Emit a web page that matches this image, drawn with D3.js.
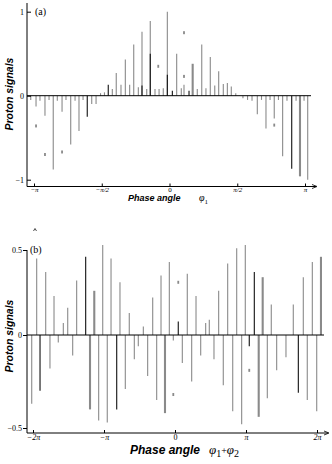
<!DOCTYPE html>
<html>
<head>
<meta charset="utf-8">
<script src="https://cdn.jsdelivr.net/npm/d3@7"></script>
<style>body{margin:0;background:#fff}</style>
</head>
<body>
<svg id="fig" width="332" height="464"></svg>
<script>
// phases are in units of pi, signals are normalised proton signal

// ---- panel (a), phase angle phi1
var aGreyPhase = [-1.024,-0.985,-0.956,-0.919,-0.889,-0.858,-0.828,-0.793,-0.764,-0.729,-0.697,-0.668,-0.638,-0.574,-0.542,
  -0.509,-0.480,-0.422,-0.393,-0.358,-0.326,-0.294,-0.264,-0.230,-0.203,-0.168,-0.142,-0.107,-0.077,-0.046,-0.016,
  0.053,0.087,0.107,0.205,0.238,0.269,0.301,0.334,0.363,0.397,0.427,0.456,0.489,
  0.542,0.576,0.609,0.648,0.679,0.712,0.742,0.773,0.804,0.835,0.867,0.934,0.993,1.020];
var aGreyValue = [-0.05,-0.13,-0.06,-0.24,-0.05,-0.88,-0.06,-0.19,-0.05,-0.58,-0.06,-0.42,-0.05,-0.10,-0.10,
  0.03,0.04,0.08,0.27,0.13,0.43,0.13,0.61,0.10,0.76,0.08,0.89,0.08,0.08,0.09,1.00,
  0.50,0.09,0.13,0.08,0.61,0.09,0.46,0.12,0.29,0.14,0.15,0.11,0.03,
  -0.03,-0.05,-0.06,-0.22,-0.05,-0.39,-0.05,-0.27,-0.05,-0.72,-0.06,-0.06,-0.06,-1.00];
var aThickPhase = [0.171,0.963];
var aThickValue = [0.38,-0.96];
var aDarkPhase = [-0.607,-0.452,-0.203,-0.142,-0.016,0.021,0.144,0.902];
var aDarkValue = [-0.25,0.13,0.12,0.50,0.25,0.06,0.06,-0.87];
var aDotPhase = [-0.985,-0.919,-0.793,-0.083,0.107,0.107,0.773];
var aDotValue = [-0.36,-0.70,-0.67,0.35,0.75,0.23,-0.35];
var aXTicks = [-1,-0.5,0,0.5,1];
var aXLabels = ['\u2212\u03c0','\u2212\u03c0/2','0','\u03c0/2','\u03c0'];
var aYTicks = [-1,0,1];
var aYLabels = ['\u22121','0','1'];

// ---- panel (b), phase angle phi1+phi2
var bGreyPhase = [-1.948,-1.821,-1.704,-1.573,-1.511,-1.385,-1.018,-0.901,-0.775,-0.644,-0.446,-0.314,-0.197,-0.080,
  0.173,0.296,0.432,0.483,0.615,0.742,0.869,0.990,1.356,1.666,1.807,1.934,
  -2.018,-1.761,-1.644,-1.441,-1.075,-0.954,-0.700,-0.573,-0.517,-0.385,-0.258,-0.024,
  0.103,0.235,0.362,0.549,0.680,0.813,0.939,1.300,1.432,1.563,1.863,1.996];
var bGreyValue = [0.45,0.37,0.23,0.07,0.16,0.32,0.53,0.45,0.31,0.13,0.05,0.22,0.35,0.43,
  0.36,0.23,0.07,0.09,0.26,0.42,0.51,0.53,0.18,0.18,0.34,0.43,
  -0.37,-0.18,-0.04,-0.11,-0.46,-0.47,-0.29,-0.13,-0.06,-0.22,-0.35,-0.03,
  -0.15,-0.25,-0.11,-0.13,-0.27,-0.41,-0.48,-0.34,-0.19,-0.12,-0.35,-0.41];
var bThickPhase = [-1.137,1.235,2.056,-1.197,1.179,-0.141];
var bThickValue = [0.26,0.34,0.46,-0.40,-0.44,-0.42];
var bDarkPhase = [-1.258,1.117,0.046,-1.901,-0.821,1.737,1.046];
var bDarkValue = [0.46,0.37,0.08,-0.30,-0.40,-0.31,-0.06];
var bDotPhase = [0.046,-0.024,1.046];
var bDotValue = [0.31,-0.32,-0.19];
var bXTicks = [-2,-1,0,1,2];
var bXLabels = ['\u22122\u03c0','\u2212\u03c0','0','\u03c0','2\u03c0'];
var bYTicks = [-0.5,0,0.5];
var bYLabels = ['\u22120.5','0','0.5'];

var grey = '#8a8a8a', dark = '#111';
var svg = d3.select('#fig');

function drawPanel(p){
    var g = svg.append('g');
    var x = d3.scaleLinear().domain(p.xDomain).range(p.xRange);
    var y = d3.scaleLinear().domain(p.yDomain).range(p.yRange);

    function sticks(ph, val, color, w){
        g.append('g').selectAll('line')
            .data(ph)
            .join('line')
            .attr('x1',function(d){return x(d)})
            .attr('x2',function(d){return x(d)})
            .attr('y1',y(0))
            .attr('y2',function(d,i){return y(val[i])})
            .attr('stroke',color)
            .attr('stroke-width',w);
    }
    sticks(p.greyP,p.greyV,grey,1.1);
    sticks(p.thickP,p.thickV,grey,2.1);
    sticks(p.darkP,p.darkV,dark,1.1);

    g.append('g').selectAll('rect')
        .data(p.dotP)
        .join('rect')
        .attr('x',function(d){return x(d)-0.9})
        .attr('y',function(d,i){return y(p.dotV[i])-1.5})
        .attr('width',1.8)
        .attr('height',3)
        .attr('fill',grey);

    // zero baseline
    g.append('line')
        .attr('x1',p.axisX).attr('x2',p.zeroEnd)
        .attr('y1',y(0)).attr('y2',y(0))
        .attr('stroke','#000').attr('stroke-width',1);

    // x axis
    var gx = g.append('g')
        .attr('transform','translate(0,'+p.axisY+')')
        .call(d3.axisBottom(x)
            .tickValues(p.xTicks)
            .tickFormat(function(d,i){return p.xLabels[i]})
            .tickSizeInner(-3)
            .tickSizeOuter(0)
            .tickPadding(p.xPad));
    gx.select('.domain').remove();
    gx.attr('font-family','"Liberation Serif", serif').attr('font-size',p.xTickFont).attr('font-style','italic');
    gx.selectAll('text').filter(function(d){return d===0}).attr('font-style','normal');
    g.append('line')
        .attr('x1',p.axisX).attr('x2',p.xEnd)
        .attr('y1',p.axisY).attr('y2',p.axisY)
        .attr('stroke','#000').attr('stroke-width',1);
    g.append('path')
        .attr('d','M'+(p.xEnd-4)+','+(p.axisY-2)+'L'+(p.xEnd+1)+','+p.axisY+'L'+(p.xEnd-4)+','+(p.axisY+2))
        .attr('fill','none').attr('stroke','#000').attr('stroke-width',0.8);

    // y axis
    var gy = g.append('g')
        .attr('transform','translate('+p.axisX+',0)')
        .call(d3.axisLeft(y)
            .tickValues(p.yTicks)
            .tickFormat(function(d,i){return p.yLabels[i]})
            .tickSizeInner(p.yTick)
            .tickSizeOuter(0)
            .tickPadding(p.yPad));
    gy.select('.domain').remove();
    gy.attr('font-family','"Liberation Serif", serif').attr('font-size',p.yTickFont);
    g.append('line')
        .attr('x1',p.axisX).attr('x2',p.axisX)
        .attr('y1',p.yTop).attr('y2',p.axisY)
        .attr('stroke','#000').attr('stroke-width',1);

    // panel tag
    g.append('text')
        .attr('x',p.tagX).attr('y',p.tagY)
        .attr('font-family','"Liberation Serif", serif')
        .attr('font-size',10)
        .text(p.tag);

    // axis titles
    g.append('text')
        .attr('transform','translate(13,'+p.yLabelMid+') rotate(-90)')
        .attr('text-anchor','middle')
        .attr('font-family','"Liberation Sans", Arial, sans-serif')
        .attr('font-weight','bold').attr('font-style','italic')
        .attr('font-size',10.5)
        .text('Proton signals');

    g.append('text')
        .attr('x',p.titleX).attr('y',p.titleY)
        .attr('font-family','"Liberation Sans", Arial, sans-serif')
        .attr('font-weight','bold').attr('font-style','italic')
        .attr('font-size',p.titleFont)
        .text('Phase angle');

    var phi = g.append('text')
        .attr('x',p.phiX).attr('y',p.titleY)
        .attr('font-family','"Liberation Serif", serif')
        .attr('font-size',p.titleFont+1);
    p.phiParts.forEach(function(part){
        phi.append('tspan')
            .attr('font-style',part[1]?null:'italic')
            .attr('font-size',part[1]?p.titleFont-2:null)
            .attr('dy',part[1]===1?3:(part[1]===-1?-3:null))
            .text(part[0]);
    });
    return g;
}

drawPanel({
    xDomain:[-1,1], xRange:[34,305],
    yDomain:[-1,1], yRange:[179.7,11.7],
    greyP:aGreyPhase, greyV:aGreyValue,
    thickP:aThickPhase, thickV:aThickValue,
    darkP:aDarkPhase, darkV:aDarkValue,
    dotP:aDotPhase, dotV:aDotValue,
    xTicks:aXTicks, xLabels:aXLabels, xTickFont:7, xPad:1,
    yTicks:aYTicks, yLabels:aYLabels, yTickFont:8, yTick:-4, yPad:3,
    axisX:27, axisY:186.5, xEnd:316, zeroEnd:311, yTop:3,
    tag:'(a)', tagX:35, tagY:15,
    yLabelMid:94,
    titleX:128, titleY:201, titleFont:9, phiX:199,
    phiParts:[['\u03c6',0],['1',1]]
});

drawPanel({
    xDomain:[-2,2], xRange:[33,317],
    yDomain:[-0.5,0,0.5], yRange:[428,335,250],
    greyP:bGreyPhase, greyV:bGreyValue,
    thickP:bThickPhase, thickV:bThickValue,
    darkP:bDarkPhase, darkV:bDarkValue,
    dotP:bDotPhase, dotV:bDotValue,
    xTicks:bXTicks, xLabels:bXLabels, xTickFont:8, xPad:1,
    yTicks:bYTicks, yLabels:bYLabels, yTickFont:8, yTick:4, yPad:1,
    axisX:27, axisY:433, xEnd:328, zeroEnd:324, yTop:250,
    tag:'(b)', tagX:30, tagY:253,
    yLabelMid:336,
    titleX:130, titleY:454, titleFont:12, phiX:209,
    phiParts:[['\u03c6',0],['1',1],['+',-1],['\u03c6',0],['2',1]]
});

// small caret above the (b) vertical axis
svg.append('path')
    .attr('d','M33.5,231L35,228.5L36.5,231')
    .attr('fill','none').attr('stroke','#000').attr('stroke-width',0.7);
</script>
</body>
</html>
